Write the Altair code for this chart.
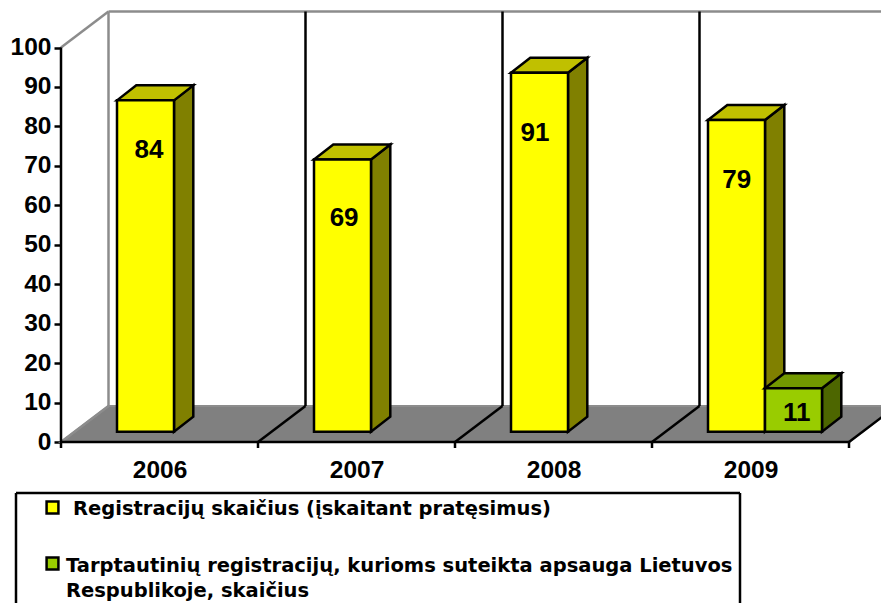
import json
import altair as alt
import pandas as pd

years = ["2006", "2007", "2008", "2009"]
registrations = [84, 69, 91, 79]
international = [None, None, None, 11]
y_ticks = list(range(0, 101, 10))
legend_line1 = "Registracijų skaičius (įskaitant pratęsimus)"
legend_line2 = "Tarptautinių registracijų, kurioms suteikta apsauga Lietuvos"
legend_line3 = "Respublikoje,  skaičius"

# value-label anchors (category units, value units)
label_x = [0.447, 1.437, 2.406, 3.43]
label_y = [74.1, 56.8, 78.4, 66.4]
label2_x = [3.735]
label2_y = [7.4]

CAT = 197.0     # px per category
UNIT = 3.945    # px per value unit
W, H = 820, 595
ZERO_PX = 434   # y of value 0 inside the plot
FONT = "Liberation Sans"
LEGEND_FONT = "DejaVu Sans"

xscale = alt.Scale(domain=[0, W / CAT], range=[0, W], nice=False, zero=False)
yscale = alt.Scale(domain=[(ZERO_PX - H) / UNIT, ZERO_PX / UNIT], range=[H, 0], nice=False, zero=False)

wall_dx, wall_dy = 47.5 / CAT, 36 / UNIT
bar_dx, bar_dy = 19.3 / CAT, 15 / UNIT
bar_l, bar_w, base = 56 / CAT, 57 / CAT, 2.6
n = len(years)

expr = json.dumps(years) + "[floor(datum.value)]"
x_axis = alt.Axis(
    orient="bottom", offset=ZERO_PX - H, values=[i + 0.5 for i in range(n)], labelExpr=expr,
    ticks=False, domain=False, grid=False, title=None, labelPadding=16, labelFont=FONT,
    labelFontSize=24.5, labelFontWeight="bold", labelColor="black", labelBaseline="top",
)
y_axis = alt.Axis(
    values=y_ticks, domain=False, grid=False, title=None, tickSize=7, tickWidth=2.5,
    tickColor="black", labelPadding=3, labelFont=FONT, labelFontSize=24.5,
    labelFontWeight="bold", labelColor="black",
)
X = alt.X("x:Q", scale=xscale, axis=x_axis)
Y = alt.Y("y:Q", scale=yscale, axis=y_axis)
Y2 = alt.Y2("y2:Q")
X2 = alt.X2("x2:Q")


def area(rows, fill, stroke, sw=2.5):
    df = pd.DataFrame(rows, columns=["id", "x", "y", "y2"])
    return alt.Chart(df).mark_area(
        fill=fill, stroke=stroke, strokeWidth=sw, orient="vertical", strokeJoin="miter"
    ).encode(x=X, y=Y, y2=Y2, detail="id:N")


def lines(rows, color, sw=2.5):
    df = pd.DataFrame(rows, columns=["id", "x", "y"])
    return alt.Chart(df).mark_line(color=color, strokeWidth=sw, strokeCap="butt").encode(
        x=X, y=Y, detail="id:N"
    )


# floor
floor = area(
    [[0, 0, 0, 0], [0, wall_dx, 0, wall_dy], [0, n, 0, wall_dy], [0, n + wall_dx, wall_dy, wall_dy]],
    "#808080", "#8c8c8c", 2,
)

# walls
wall_grey = lines(
    [["l", wall_dx, wall_dy], ["l", wall_dx, 100 + wall_dy],
     ["d", 0, 100], ["d", wall_dx, 100 + wall_dy],
     ["t", wall_dx, 100 + wall_dy], ["t", n + wall_dx, 100 + wall_dy],
     ["d0", 0, 0], ["d0", wall_dx, wall_dy]],
    "#8c8c8c",
)
div_rows = []
for i in range(1, n):
    div_rows += [[f"v{i}", i + wall_dx, wall_dy], [f"v{i}", i + wall_dx, 100 + wall_dy]]
    div_rows += [[f"f{i}", i, 0], [f"f{i}", i + wall_dx, wall_dy]]
div_rows += [["f4", n, 0], ["f4", n + wall_dx, wall_dy]]
dividers = lines(div_rows, "black")

axis_rows = [["a", 0, 0], ["a", 0, 100], ["b", 0, 0], ["b", n, 0]]
for i in range(n + 1):
    axis_rows += [[f"t{i}", i, 0], [f"t{i}", i, -6 / UNIT]]
axis_lines = lines(axis_rows, "black")


def bar_layers(vals, lefts, front, top, side):
    tops, sides, fronts = [], [], []
    for k, (v, l) in enumerate(zip(vals, lefts)):
        if v is None:
            continue
        r, t = l + bar_w, base + v
        tops += [[k, l, t, t], [k, l + bar_dx, t + bar_dy, t],
                 [k, r, t + bar_dy, t], [k, r + bar_dx, t + bar_dy, t + bar_dy]]
        sides += [[k, r, t, base], [k, r + bar_dx, t + bar_dy, base + bar_dy]]
        fronts.append({"x": l, "x2": r, "y": base, "y2": t})
    fr = alt.Chart(pd.DataFrame(fronts)).mark_rect(
        fill=front, stroke="black", strokeWidth=2.5
    ).encode(x=X, x2=X2, y=Y, y2=Y2)
    return [area(sides, side, "black"), area(tops, top, "black"), fr]


lefts1 = [i + bar_l for i in range(n)]
lefts2 = [i + bar_l + bar_w for i in range(n)]
yellow = bar_layers(registrations, lefts1, "#FFFF00", "#C0C000", "#808000")
green = bar_layers(international, lefts2, "#99CC00", "#739900", "#4D6600")

labels = alt.Chart(pd.DataFrame({"x": label_x, "y": label_y, "t": registrations})).mark_text(
    font=FONT, fontSize=26, fontWeight="bold", color="black", baseline="middle"
).encode(x=X, y=Y, text="t:Q")
labels2 = alt.Chart(pd.DataFrame({"x": label2_x, "y": label2_y, "t": [11]})).mark_text(
    font=FONT, fontSize=26, fontWeight="bold", color="black", baseline="middle"
).encode(x=X, y=Y, text="t:Q")


# legend box (runs off the bottom of the picture, as in the reference)
def box_edge(x, x2, y, y2):
    return alt.Chart(pd.DataFrame({"a": [0]})).mark_rule(color="black", strokeWidth=2.5).encode(
        x=alt.value(x), x2=alt.value(x2), y=alt.value(y), y2=alt.value(y2)
    )


box = [box_edge(-45, 679, 485, 485), box_edge(-45, -45, 485, 595), box_edge(679, 679, 485, 595)]


def swatch(color, y):
    return alt.Chart(pd.DataFrame({"a": [0]})).mark_point(
        shape="square", size=140, filled=True, fill=color, stroke="black", strokeWidth=2.5, opacity=1
    ).encode(x=alt.value(-8.5), y=alt.value(y))


def legend_text(text, x, y):
    return alt.Chart(pd.DataFrame({"t": [text]})).mark_text(
        font=LEGEND_FONT, fontSize=19.5, fontWeight="bold", color="black", align="left", baseline="alphabetic"
    ).encode(x=alt.value(x), y=alt.value(y), text="t:N")


legend = box + [
    swatch("#FFFF00", 499.5), swatch("#99CC00", 555.5),
    legend_text(legend_line1, 12, 507),
    legend_text(legend_line2, 5, 564),
    legend_text(legend_line3, 5, 589),
]

chart = alt.layer(
    floor, wall_grey, dividers, axis_lines, *yellow, *green, labels, labels2, *legend
).properties(
    width=W, height=H, padding={"left": 53, "top": 0, "right": 0, "bottom": 0},
    autosize=alt.AutoSizeParams(type="none"),
).configure_view(stroke=None)

chart.save("out.html", embed_options={"renderer": "svg", "actions": False})
